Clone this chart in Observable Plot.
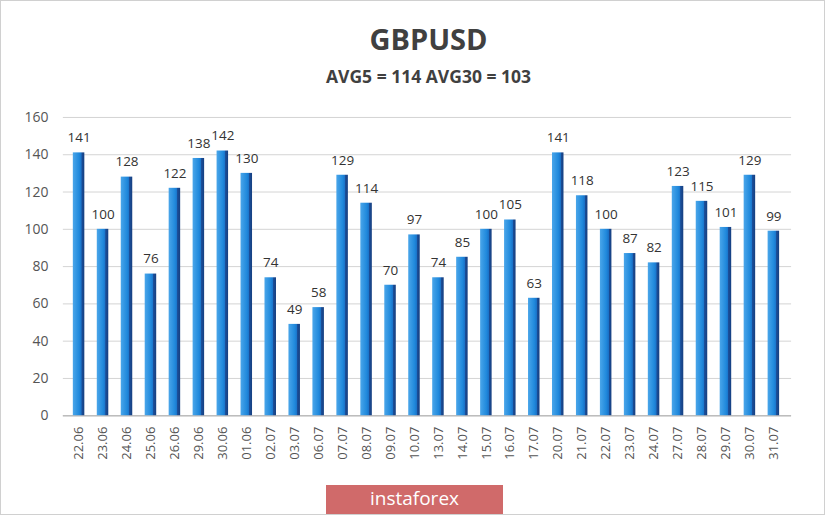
<!DOCTYPE html>
<html><head><meta charset="utf-8">
<script src="https://cdn.jsdelivr.net/npm/d3@7"></script>
<script src="https://cdn.jsdelivr.net/npm/@observablehq/plot@0.6"></script>
<style>
body{margin:0;background:#fff;}
#wrap{position:relative;width:823px;height:513px;border:1px solid #d0d0d0;background:#fff;overflow:hidden;font-family:"Open Sans",sans-serif;}
#title{position:absolute;top:18px;left:16px;width:100%;text-align:center;font:bold 29px "Open Sans",sans-serif;color:#404040;}
#sub{position:absolute;top:63px;left:16px;width:100%;text-align:center;font:bold 17.5px "Open Sans",sans-serif;color:#404040;}
#chart{position:absolute;top:100px;left:0;}
#wm{position:absolute;left:325px;top:484px;width:177px;height:29px;background:#d06a6a;color:#fff;font:19px "Open Sans",sans-serif;line-height:27px;text-align:center;}
</style></head>
<body>
<div id="wrap">
<div id="title">GBPUSD</div>
<div id="sub">AVG5 = 114 AVG30 = 103</div>
<div id="chart"></div>
<div id="wm">instaforex</div>
</div>
<script>
const dates = ["22.06","23.06","24.06","25.06","26.06","29.06","30.06","01.06","02.07","03.07","06.07","07.07","08.07","09.07","10.07","13.07","14.07","15.07","16.07","17.07","20.07","21.07","22.07","23.07","24.07","27.07","28.07","29.07","30.07","31.07"];
const values = [141,100,128,76,122,138,142,130,74,49,58,129,114,70,97,74,85,100,105,63,141,118,100,87,82,123,115,101,129,99];
const yTicks = [0,20,40,60,80,100,120,140,160];

const data = dates.map((d,i)=>({date:d, value:values[i]}));

const chart = Plot.plot({
  width: 825,
  height: 380,
  marginLeft: 62,
  marginRight: 33,
  marginTop: 16,
  marginBottom: 65,
  style: {fontFamily: "'Open Sans', sans-serif", background: "transparent"},
  x: {domain: dates, paddingInner: 0.52, paddingOuter: 0, round: false, insetLeft: 10, insetRight: 12, label: null},
  y: {domain: [0,160], ticks: yTicks, label: null},
  marks: [
    Plot.gridY(yTicks, {stroke: "#d4d4d4", strokeOpacity: 1}),
    Plot.ruleY([0], {stroke: "#bdbdbd", strokeWidth: 1.5}),
    Plot.axisY({ticks: yTicks, tickSize: 0, tickPadding: 15, fontSize: 14, fill: "#555", label: null}),
    Plot.axisX({tickSize: 0, tickPadding: 11, tickRotate: -90, fontSize: 13, fill: "#555", label: null}),
    Plot.barY(data, {x: "date", y: "value", fill: "url(#barGrad)"}),
    Plot.text(data, {x: "date", y: "value", text: d => String(d.value), dy: -15, fontSize: 13.5, fill: "#333"})
  ]
});

// gradient for bars
const svg = d3.select(chart);
const defs = svg.insert("defs", ":first-child");
const g = defs.append("linearGradient").attr("id","barGrad").attr("x1","0").attr("x2","1").attr("y1","0").attr("y2","0");
g.append("stop").attr("offset","0%").attr("stop-color","#4aa6ea");
g.append("stop").attr("offset","55%").attr("stop-color","#2089dc");
g.append("stop").attr("offset","75%").attr("stop-color","#1a72c8");
g.append("stop").attr("offset","76%").attr("stop-color","#1b4f9a");
g.append("stop").attr("offset","100%").attr("stop-color","#163f80");

document.getElementById("chart").appendChild(chart);
</script>
</body></html>
